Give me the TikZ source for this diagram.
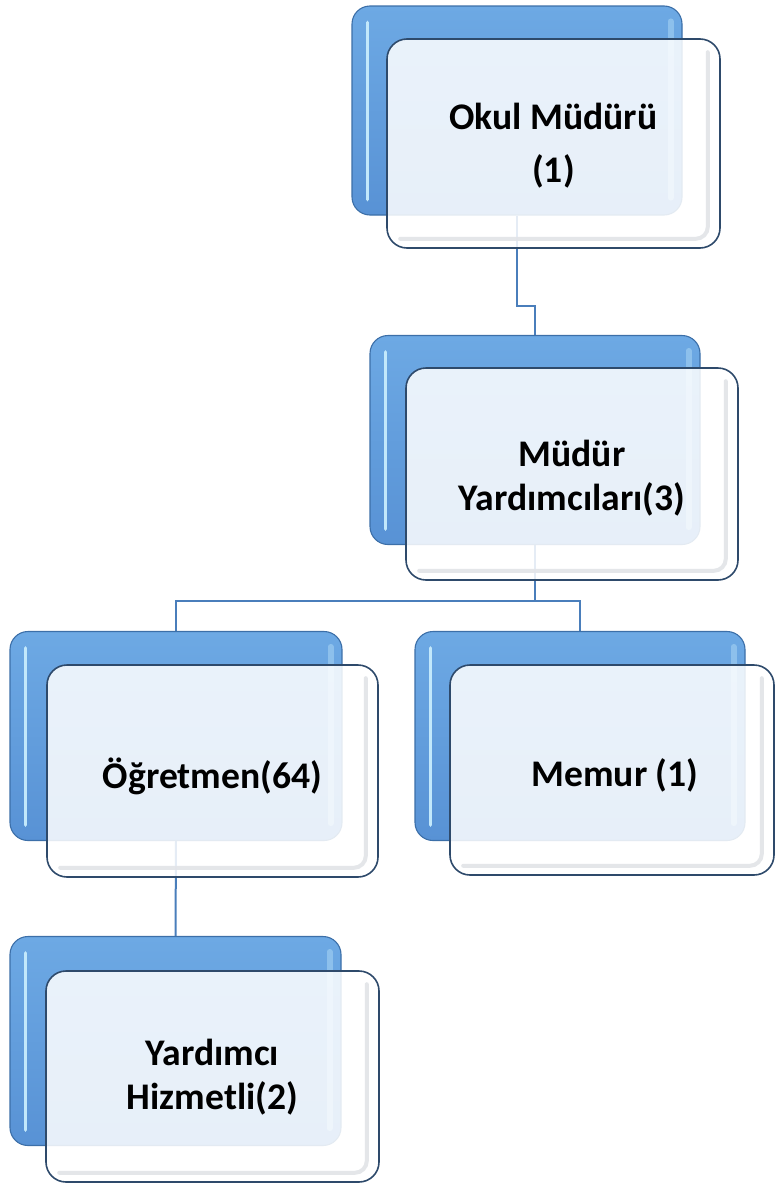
\documentclass[tikz,border=0pt]{standalone}
\usepackage{fontspec}
\setmainfont{Carlito}
\usetikzlibrary{backgrounds}
\definecolor{bluetop}{HTML}{6DA9E4}
\definecolor{bluebot}{HTML}{5892D5}
\definecolor{blueedge}{HTML}{3C6FA8}
\definecolor{frontedge}{HTML}{2E4A6B}
\definecolor{connblue}{HTML}{4A7EBB}
\definecolor{hlcol}{HTML}{C2E8FB}
\definecolor{glosscol}{HTML}{E2E4E8}
\begin{document}
\begin{tikzpicture}[x=1pt,y=-1pt,
  backbox/.style={rounded corners=18pt, draw=blueedge, line width=1.1pt,
    top color=bluetop, bottom color=bluebot, inner sep=0pt,
    minimum width=330pt, minimum height=209pt},
  frontbox/.style={rounded corners=20pt, draw=frontedge, line width=1.6pt,
    fill=white, fill opacity=0.86, inner sep=0pt,
    minimum width=332pt, minimum height=210pt},
  boxtext/.style={text opacity=1, fill opacity=1, align=center, yshift=-5pt,
    font=\fontsize{37.6}{44}\selectfont\bfseries},
  conn/.style={draw=connblue, line width=2pt},
  hlleft/.style={draw=hlcol, line width=3.5pt, line cap=round},
  hlright/.style={draw=hlcol!55!bluetop, line width=6pt, line cap=round, draw opacity=0.7},
  gloss/.style={draw=glosscol, line width=4pt, rounded corners=12pt, line cap=round, draw opacity=0.9}
]
\useasboundingbox (0,0) rectangle (774,1183);

% back boxes
\node[backbox] (b1) at (517,110.5) {};
\node[backbox] (b2) at (535,440) {};
\node[backbox, minimum width=332pt] (b3) at (176,736) {};
\node[backbox] (b4) at (580,736) {};
\node[backbox, minimum width=331pt] (b5) at (175.5,1041) {};

% highlight stripes on back boxes
\foreach \b in {b1,b2,b3,b4,b5}{
  \draw[hlleft] ([xshift=16pt,yshift=-17pt]\b.north west) -- ([xshift=16pt,yshift=16pt]\b.south west);
  \draw[hlright] ([xshift=-12pt,yshift=-16pt]\b.north east) -- ([xshift=-12pt,yshift=18pt]\b.south east);
}

% front boxes
\node[frontbox, minimum width=333pt, minimum height=209pt,
  label={[boxtext, yshift=3pt]center:Okul Müdürü\\[9pt](1)}] (f1) at (553.5,143.5) {};
\node[frontbox, minimum height=212pt,
  label={[boxtext, yshift=1pt]center:Müdür\\Yardımcıları(3)}] (f2) at (572,474) {};
\node[frontbox, minimum width=331pt, minimum height=212pt,
  label={[boxtext]center:Öğretmen(64)}] (f3) at (212.5,771) {};
\node[frontbox, minimum width=324pt,
  label={[boxtext, xshift=3pt]center:Memur (1)}] (f4) at (612,770) {};
\node[frontbox, minimum width=333pt, minimum height=211pt,
  label={[boxtext, yshift=4pt]center:Yardımcı\\Hizmetli(2)}] (f5) at (212.5,1076.5) {};

% inner gloss edge on front boxes (right and bottom)
\foreach \f in {f1,f2,f3,f4,f5}{
  \draw[gloss] ([xshift=-13pt,yshift=-14pt]\f.north east) -- ([xshift=-13pt,yshift=10pt]\f.south east) -- ([xshift=14pt,yshift=10pt]\f.south west);
}

% connectors behind everything
\begin{scope}[on background layer]
  \draw[conn] (b1.south) -- ++(0,90) -| (b2.north);
  \draw[conn] (b2.south) -- ++(0,56) coordinate (j);
  \draw[conn] (j) -| (b3.north);
  \draw[conn] (j) -| (b4.north);
  \draw[conn] (b3.south) -- (b5.north);
\end{scope}
\end{tikzpicture}
\end{document}
